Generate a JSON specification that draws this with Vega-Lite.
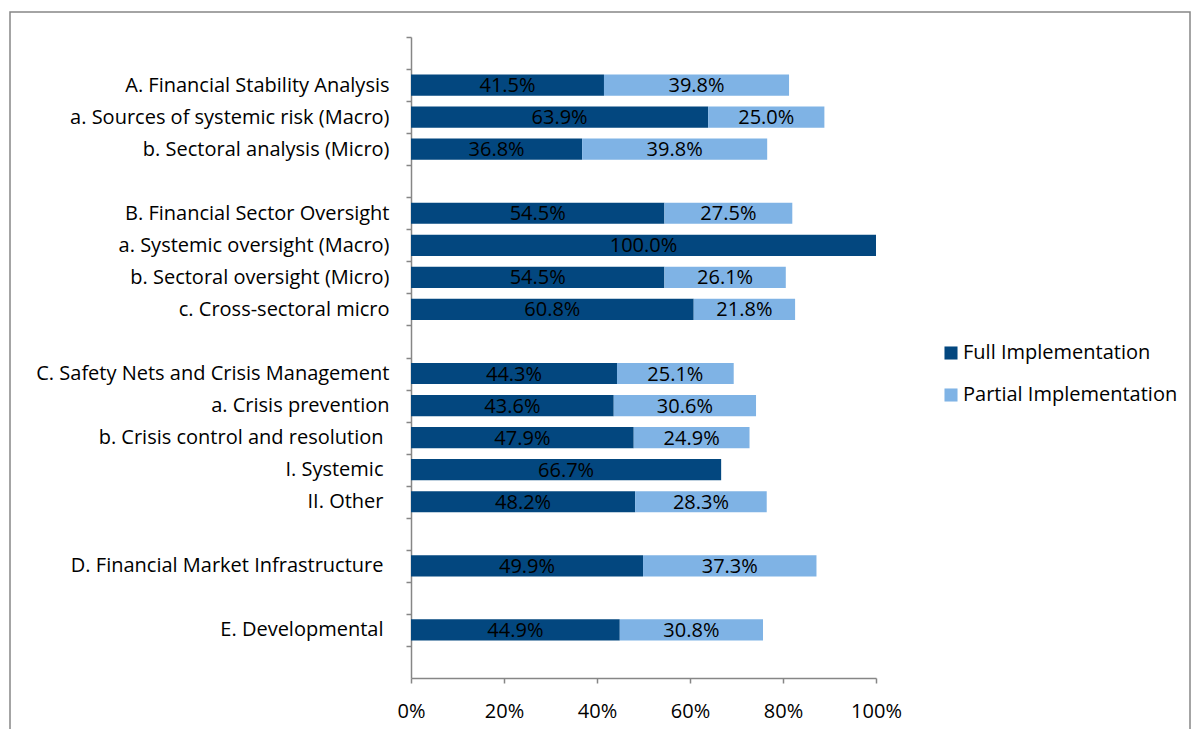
{
  "$schema": "https://vega.github.io/schema/vega-lite/v6.json",
  "width": 1180,
  "height": 730,
  "autosize": "none",
  "padding": {"left": 10, "top": 12, "right": 4, "bottom": 0},
  "background": "white",
  "config": {
    "font": "Open Sans",
    "view": {"stroke": "#868686", "strokeWidth": 1.5},
    "axis": {"domainColor": "#868686", "tickColor": "#868686", "labelColor": "#000000", "labelFont": "Open Sans", "labelFontSize": 20, "domainWidth": 1.5, "tickWidth": 1.5}
  },
  "data": {
    "values": [
      {"cat": "A. Financial Stability Analysis", "type": "Full Implementation", "order": 1, "value": 0.415},
      {"cat": "A. Financial Stability Analysis", "type": "Partial Implementation", "order": 2, "value": 0.398},
      {"cat": "a. Sources of systemic risk (Macro)", "type": "Full Implementation", "order": 1, "value": 0.639},
      {"cat": "a. Sources of systemic risk (Macro)", "type": "Partial Implementation", "order": 2, "value": 0.250},
      {"cat": "b. Sectoral analysis (Micro)", "type": "Full Implementation", "order": 1, "value": 0.368},
      {"cat": "b. Sectoral analysis (Micro)", "type": "Partial Implementation", "order": 2, "value": 0.398},
      {"cat": "B. Financial Sector Oversight", "type": "Full Implementation", "order": 1, "value": 0.545},
      {"cat": "B. Financial Sector Oversight", "type": "Partial Implementation", "order": 2, "value": 0.275},
      {"cat": "a. Systemic oversight (Macro)", "type": "Full Implementation", "order": 1, "value": 1.0},
      {"cat": "b. Sectoral oversight (Micro)", "type": "Full Implementation", "order": 1, "value": 0.545},
      {"cat": "b. Sectoral oversight (Micro)", "type": "Partial Implementation", "order": 2, "value": 0.261},
      {"cat": "c. Cross-sectoral micro", "type": "Full Implementation", "order": 1, "value": 0.608},
      {"cat": "c. Cross-sectoral micro", "type": "Partial Implementation", "order": 2, "value": 0.218},
      {"cat": "C. Safety Nets and Crisis Management", "type": "Full Implementation", "order": 1, "value": 0.443},
      {"cat": "C. Safety Nets and Crisis Management", "type": "Partial Implementation", "order": 2, "value": 0.251},
      {"cat": "a. Crisis prevention", "type": "Full Implementation", "order": 1, "value": 0.436},
      {"cat": "a. Crisis prevention", "type": "Partial Implementation", "order": 2, "value": 0.306},
      {"cat": "b. Crisis control and resolution", "type": "Full Implementation", "order": 1, "value": 0.479},
      {"cat": "b. Crisis control and resolution", "type": "Partial Implementation", "order": 2, "value": 0.249},
      {"cat": "I. Systemic", "type": "Full Implementation", "order": 1, "value": 0.667},
      {"cat": "II. Other", "type": "Full Implementation", "order": 1, "value": 0.482},
      {"cat": "II. Other", "type": "Partial Implementation", "order": 2, "value": 0.283},
      {"cat": "D. Financial Market Infrastructure", "type": "Full Implementation", "order": 1, "value": 0.499},
      {"cat": "D. Financial Market Infrastructure", "type": "Partial Implementation", "order": 2, "value": 0.373},
      {"cat": "E. Developmental", "type": "Full Implementation", "order": 1, "value": 0.449},
      {"cat": "E. Developmental", "type": "Partial Implementation", "order": 2, "value": 0.308}
    ]
  },
  "transform": [
    {"stack": "value", "groupby": ["cat"], "sort": [{"field": "order", "order": "ascending"}], "as": ["v0", "v1"]},
    {"calculate": "(datum.v0 + datum.v1) / 2", "as": "mid"}
  ],
  "layer": [
    {
      "mark": {"type": "bar", "height": {"band": 0.66}},
      "encoding": {
        "y": {
          "field": "cat", "type": "nominal", "title": null,
          "scale": {
            "domain": [" ", "A. Financial Stability Analysis", "a. Sources of systemic risk (Macro)", "b. Sectoral analysis (Micro)", "  ", "B. Financial Sector Oversight", "a. Systemic oversight (Macro)", "b. Sectoral oversight (Micro)", "c. Cross-sectoral micro", "   ", "C. Safety Nets and Crisis Management", "a. Crisis prevention", "b. Crisis control and resolution", "I. Systemic", "II. Other", "    ", "D. Financial Market Infrastructure", "     ", "E. Developmental", "      "],
            "range": [25, 666], "paddingInner": 0, "paddingOuter": 0
          },
          "axis": {
            "orient": "left", "offset": -401, "tickSize": 5, "tickOffset": -16, "labelOffset": 16, "labelLimit": 400,
            "labelPadding": {"condition": {"test": "indexof(['b. Crisis control and resolution', 'I. Systemic', 'II. Other', 'D. Financial Market Infrastructure', 'E. Developmental'], datum.value) >= 0", "value": 23}, "value": 17}
          }
        },
        "x": {
          "field": "v0", "type": "quantitative", "title": null,
          "scale": {"domain": [0, 1], "range": [401, 866], "nice": false},
          "axis": {"orient": "bottom", "offset": -64, "format": ".0%", "values": [0, 0.2, 0.4, 0.6, 0.8, 1.0], "grid": false, "tickSize": 5, "labelPadding": 18, "labelFlush": false, "labelOverlap": false}
        },
        "x2": {"field": "v1"},
        "color": {
          "field": "type", "type": "nominal", "title": null,
          "scale": {"domain": ["Full Implementation", "Partial Implementation"], "range": ["#03477F", "#7FB3E5"]},
          "legend": {"orient": "none", "legendX": 931, "legendY": 331, "symbolType": "square", "symbolSize": 170, "symbolStrokeWidth": 0, "labelFontSize": 20, "labelFont": "Open Sans", "labelColor": "#000000", "rowPadding": 22, "labelOffset": 2, "labelLimit": 300}
        }
      }
    },
    {
      "mark": {"type": "text", "fontSize": 20, "font": "Open Sans", "color": "#000000", "baseline": "middle", "align": "center", "dy": 1},
      "encoding": {
        "y": {"field": "cat", "type": "nominal"},
        "x": {"field": "mid", "type": "quantitative"},
        "text": {"field": "value", "type": "quantitative", "format": ".1%"}
      }
    }
  ]
}
